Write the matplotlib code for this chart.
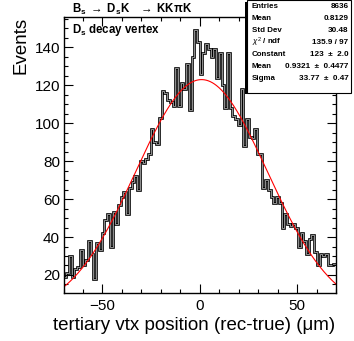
import numpy as np
import matplotlib
matplotlib.use("Agg")
import matplotlib.pyplot as plt
from matplotlib.patches import Rectangle
from matplotlib.ticker import MultipleLocator

plt.rcParams['font.family'] = ['Liberation Sans', 'DejaVu Sans']
plt.rcParams['mathtext.fontset'] = 'custom'
plt.rcParams['mathtext.rm'] = 'Liberation Sans'
plt.rcParams['mathtext.bf'] = 'Liberation Sans:bold'
plt.rcParams['mathtext.it'] = 'Liberation Sans:italic'
plt.rcParams['axes.unicode_minus'] = True

# ---- data ----
x_lo, x_hi, n_bins = -70.0, 70.0, 100
counts = [19, 21, 30, 19, 23, 24, 33, 25, 28, 38,
          31, 18, 37, 33, 42, 49, 52, 35, 53, 47,
          57, 61, 64, 52, 66, 69, 72, 65, 80, 79,
          81, 84, 97, 90, 89, 103, 117, 116, 112, 111,
          109, 129, 109, 121, 118, 131, 107, 135, 149, 143,
          126, 137, 142, 139, 135, 139, 124, 137, 120, 108,
          137, 108, 104, 102, 99, 118, 88, 102, 93, 92,
          97, 84, 84, 66, 70, 65, 61, 58, 61, 58,
          45, 52, 47, 46, 47, 45, 35, 42, 38, 31,
          39, 41, 32, 25, 31, 30, 31, 25, 25, 26]
fit_constant = 123.0
fit_mean = 0.9321
fit_sigma = 33.77

stats_labels = ["Entries", "Mean", "Std Dev", r"$\chi^{2}$ / ndf", "Constant", "Mean", "Sigma"]
stats_values = ["8636", "0.8129", "30.48", "135.9 / 97", "123  \u00b1  2.0",
                "0.9321  \u00b1  0.4477", "33.77  \u00b1  0.47"]

title_text = r"$\mathbf{B_{s}}$ $\rightarrow$ $\mathbf{D_{s}K}$   $\rightarrow$ $\mathbf{KK\pi K}$"
inner_text = r"$\mathbf{D_{s}}$ decay vertex"
x_title = "tertiary vtx position (rec-true) (\u03bcm)"
y_title = "Events"
y_lo, y_hi = 10.5, 156.0

W, H = 354, 341
def px(x):
    return x / W
def py(y):
    return 1 - y / H

fig = plt.figure(figsize=(W / 100, H / 100), dpi=100)
ax = fig.add_axes([px(63.5), py(293), px(336) - px(63.5), py(17) - py(293)])

edges = np.linspace(x_lo, x_hi, n_bins + 1)
ax.stairs(counts, edges, baseline=None, color='black', linewidth=1.9)
ax.stairs(counts, edges, baseline=None, color='#b8b8b8', linewidth=0.55)

xf = np.linspace(x_lo, x_hi, 400)
yf = fit_constant * np.exp(-0.5 * ((xf - fit_mean) / fit_sigma) ** 2)
ax.plot(xf, yf, color='red', linewidth=0.8)

ax.set_xlim(x_lo, x_hi)
ax.set_ylim(y_lo, y_hi)
ax.xaxis.set_major_locator(MultipleLocator(50))
ax.xaxis.set_minor_locator(MultipleLocator(10))
ax.yaxis.set_major_locator(MultipleLocator(20))
ax.yaxis.set_minor_locator(MultipleLocator(5))
ax.tick_params(which='both', direction='in', top=True, right=True, width=0.8, labelsize=11)
ax.tick_params(which='major', length=6.3)
ax.tick_params(which='minor', length=3.2)
ax.tick_params(axis='x', pad=4.5)
ax.tick_params(axis='y', pad=2.5)
for s in ax.spines.values():
    s.set_linewidth(1.0)

fig.text(px(335), py(330), x_title, ha='right', va='baseline', fontsize=13.5)
fig.text(px(21), py(17), y_title, rotation=90, ha='center', va='top', fontsize=13.5)

fig.text(px(71.5), py(13.3), title_text, ha='left', va='baseline', fontsize=8.3)
fig.text(px(71.5), py(33.3), inner_text, ha='left', va='baseline', fontsize=8.3, fontweight='bold')

# stats box
shadow = Rectangle((px(245), py(94.3)), px(349) - px(245), py(2.5) - py(94.3),
                   transform=fig.transFigure, facecolor='black', edgecolor='black',
                   linewidth=0, zorder=5)
box = Rectangle((px(246.7), py(92.7)), px(350.7) - px(246.7), py(0.5) - py(92.7),
                transform=fig.transFigure, facecolor='white', edgecolor='black',
                linewidth=0.8, zorder=6)
fig.add_artist(shadow)
fig.add_artist(box)
row_y = [6.7, 18.8, 30.7, 42.5, 54.3, 66.3, 78.3]
for lab, val, yy in zip(stats_labels, stats_values, row_y):
    fig.text(px(251.5), py(yy), lab, ha='left', va='center', fontsize=5.7,
             fontweight='bold', zorder=7)
    fig.text(px(348.5), py(yy), val, ha='right', va='center', fontsize=5.9,
             fontweight='bold', zorder=7)

fig.savefig("out.png", dpi=100)
